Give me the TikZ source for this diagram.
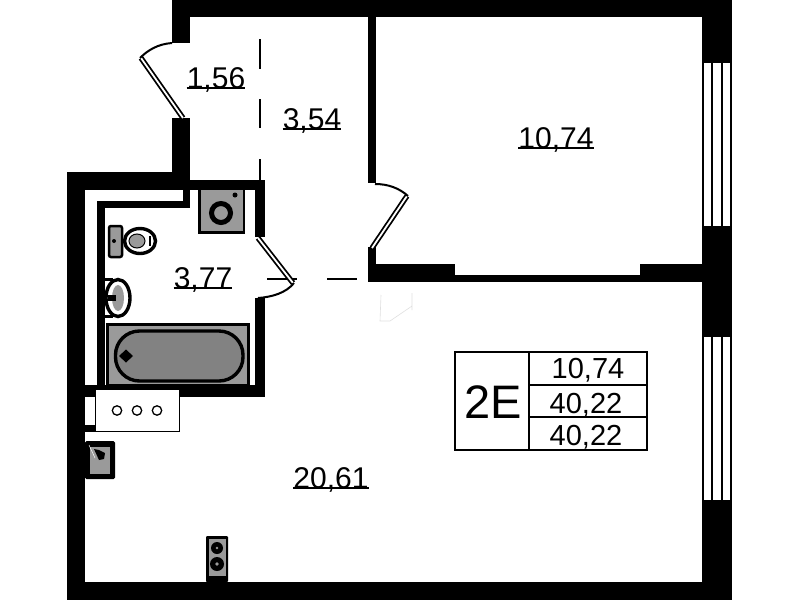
\documentclass[tikz,border=0pt]{standalone}
\usepackage{fontspec}
\setmainfont{Liberation Sans}
\usetikzlibrary{calc}
\definecolor{gA}{HTML}{9A9A9A}
\definecolor{gB}{HTML}{828282}
\tikzset{
 wall/.style={fill=black,draw=none},
 area/.style={inner sep=0pt,anchor=base,font=\fontsize{30}{30}\selectfont},
 cell/.style={inner sep=0pt,anchor=base,font=\fontsize{29}{29}\selectfont},
 rule/.style={line width=1.5pt},
 dashwall/.style={line width=1.8pt},
 doorleaf/.style={line width=5.4pt,draw=black},
 doorgap/.style={line width=1.8pt,draw=white},
 swing/.style={line width=2pt},
 fixture/.style={fill=gA,draw=black,line width=3pt},
 tableline/.style={line width=2pt},
 winline/.style={line width=2pt}
}
\newcommand{\arealabel}[4]{\node[area] (#1) at (#2,#3) {#4};
 \draw[rule] (#1.base west) -- (#1.base east);}
\begin{document}
\begin{tikzpicture}[x=1pt,y=-1pt]
\useasboundingbox[fill=white] (0,0) rectangle (799,600);
% outer walls
\fill[wall] (172,0) rectangle (732,17);
\fill[wall] (172,0) rectangle (190,43);
\fill[wall] (172,118) rectangle (190,190);
\fill[wall] (67,172) rectangle (190,190);
\fill[wall] (67,172) rectangle (85,600);
\fill[wall] (67,582) rectangle (732,600);
\fill[wall] (702,0) rectangle (732,63);
\fill[wall] (702,226) rectangle (732,337);
\fill[wall] (702,500) rectangle (732,600);
% windows
\foreach \x in {702.5,712,721.5,731.2}{
 \draw[winline] (\x,63) -- (\x,226);
 \draw[winline] (\x,337) -- (\x,500);
}
% partition walls
\fill[wall] (368,17) rectangle (375.5,183);
\fill[wall] (368,247) rectangle (375.5,264);
\fill[wall] (368,264) rectangle (455,282);
\fill[wall] (455,275) rectangle (640,282);
\fill[wall] (640,264) rectangle (702,282);
% bathroom walls
\fill[wall] (190,180) rectangle (265,190);
\fill[wall] (255,180) rectangle (265,237);
\fill[wall] (255,298) rectangle (265,397);
\fill[wall] (85,385) rectangle (265,397);
\fill[wall] (97,201) rectangle (105,397);
\fill[wall] (97,201) rectangle (190,208);
\fill[wall] (183,190) rectangle (190,208);
\fill[wall] (85,425) rectangle (100,432);
% dashed partitions
\draw[dashwall] (260,39) -- (260,69) (260,99) -- (260,128) (260,159) -- (260,181);
\draw[dashwall] (267,279) -- (297,279) (327,279) -- (357,279);
% doors
\draw[doorleaf] (183,118) -- (141,58);
\draw[doorgap] (183,118) -- (141,58);
\draw[swing] (172,43) .. controls (158,44) and (148,50) .. (140,58);
\draw[doorleaf] (372,248) -- (407,196);
\draw[doorgap] (372,248) -- (407,196);
\draw[swing] (375,184) .. controls (388,184) and (399,188) .. (408,196);
\draw[doorleaf] (258,238) -- (293,283);
\draw[doorgap] (258,238) -- (293,283);
\draw[swing] (294,283) .. controls (286,293) and (272,297) .. (258,298);
% faint mark
\draw[black!12,line width=.6pt] (381,295) -- (380,321) -- (390,321) -- (412,306) (412,293) -- (412,310);
% washing machine
\fill[wall] (198,190) rectangle (245,234);
\fill[gA] (201,190) rectangle (243,231);
\draw[line width=5pt,fill=gA] (221,213) circle (9.5);
\fill (235,195) circle (2.5);
% toilet
\draw[fixture,line width=2.5pt,rounded corners=2pt] (109,226) rectangle (122,257);
\fill (114,241) circle (2);
\draw[fill=white,line width=3.4pt] (140,241) ellipse (15.5 and 12.5);
\draw[fill=gA,line width=1pt] (137,241) ellipse (8 and 7);
\draw[line width=2pt] (150,236) -- (150,246);
% bidet
\draw[fill=white,line width=3.4pt] (118,298) ellipse (12 and 18.5);
\fill[gA] (118,298) ellipse (6 and 13);
\fill (108,295) -- (116,295) -- (116,301) -- (108,301) -- cycle;
\fill (105,278) rectangle (113,281);
\fill (105,315) rectangle (113,318);
% bath
\fill[wall] (106,323) rectangle (250,385);
\fill[gA] (108.5,326) rectangle (247,384);
\draw[line width=3.4pt,fill=gB,rounded corners=24pt] (115.5,331) rectangle (243,381);
\fill (126,349.5) -- (133,356) -- (126,362.5) -- (119,356) -- cycle;
% shaft box and vents
\draw[line width=1pt,fill=white] (95,389.5) rectangle (179,431);
\foreach \x in {117,137,157}{\draw[line width=1.3pt] (\x,410.5) circle (4.7);}
% sink
\fill[wall,rounded corners=1.5pt] (85,441) rectangle (115,479);
\fill[gA] (90,447) rectangle (110,474);
\fill (94,449) -- (99,460) -- (104,459) -- (105,453) -- (99,450) -- cycle;
\draw[white,line width=.5pt] (89,445) -- (95,458);
% stove
\fill[wall,rounded corners=1pt] (206,536) rectangle (228,582);
\fill[gA] (209,539) rectangle (226,576);
\fill (217,548) circle (6);
\fill (217,564) circle (7);
\fill[gA] (217,548) circle (1.3);
\fill[gA] (217,564) circle (1.8);
% labels
\arealabel{a}{216}{88}{1,56}
\arealabel{b}{312}{129}{3,54}
\arealabel{c}{556}{148}{10,74}
\arealabel{d}{203}{288}{3,77}
\arealabel{e}{331}{488}{20,61}
% table
\draw[tableline] (455,352) rectangle (647,450);
\draw[tableline] (529,352) -- (529,450);
\draw[tableline] (529,384.5) -- (647,384.5) (529,417) -- (647,417);
\node[inner sep=0pt,anchor=base,font=\fontsize{47}{47}\selectfont] (t0) at (493,418) {2E};
\node[cell] (t1) at (588,378) {10,74};
\node[cell] (t2) at (586,413) {40,22};
\node[cell] (t3) at (586,445) {40,22};
\end{tikzpicture}
\end{document}
